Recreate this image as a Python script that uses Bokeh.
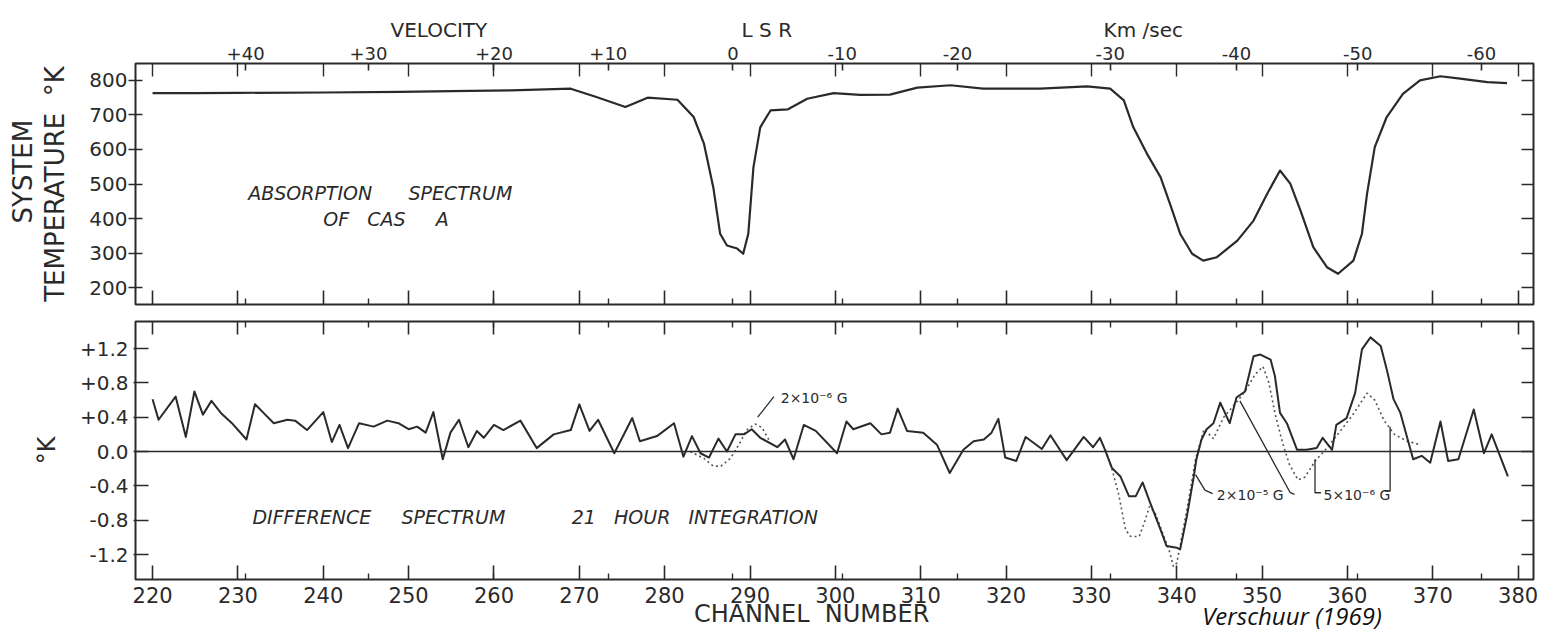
import math
from bokeh.plotting import figure
from bokeh.models import Range1d, LinearAxis, FixedTicker, Label, Span
from bokeh.layouts import column
from bokeh.embed import file_html
from bokeh.resources import INLINE

# ---------------- data ----------------
# absorption spectrum of Cas A (system temperature, K) vs channel number
abs_ch = [220, 225, 230, 240, 249, 255, 262, 269, 272, 275.4, 278, 281.5, 283.4, 284.6,
          285.7, 286.5, 287.3, 288.5, 289.2, 289.8, 290.4, 291.2, 292.4, 294.4, 296.7,
          299.8, 302.9, 306.4, 309.6, 313.5, 317.3, 324, 329.5, 332.2, 333.8, 334.9,
          336.5, 338.1, 339.2, 340.4, 341.8, 343.1, 344.7, 347.1, 349, 350.6, 352.1,
          353.3, 354.5, 356, 357.6, 358.9, 360.7, 361.7, 362.3, 363.2, 364.6, 366.5,
          368.5, 370.9, 373.2, 376.4, 378.7]
abs_T = [763, 763, 764, 765, 767, 769, 771, 776, 752, 723, 750, 744, 694, 617,
         490, 356, 322, 313, 298, 356, 548, 664, 713, 716, 747,
         763, 758, 759, 779, 786, 776, 776, 783, 776, 742, 665,
         588, 520, 443, 356, 298, 278, 288, 336, 394, 472, 539,
         501, 423, 317, 259, 240, 278, 356, 472, 607, 694, 761,
         800, 812, 805, 795, 792]

# difference spectrum, 21 hour integration (K)
diff_ch = [220, 220.7, 222.7, 223.9, 224.9, 225.9, 226.9, 228, 229.3, 231, 232, 233,
           234.2, 235.8, 236.7, 238.1, 240, 241, 241.9, 242.9, 244.2, 245.9, 247.5,
           248.8, 250, 251, 252, 252.9, 254, 254.9, 255.9, 257, 258, 258.8, 260,
           261.1, 263.1, 265, 267, 269, 270, 271.2, 272.2, 274.1, 276.2, 277.1,
           279.1, 281.1, 282.2, 283.2, 284.2, 285.2, 286.3, 287.3, 288.3, 289.3,
           290.2, 291.2, 293.2, 294.1, 295.1, 296.3, 297.7, 300.2, 301.3, 302.1,
           304.1, 305.4, 306.4, 307.3, 308.4, 310.3, 311.9, 313.4, 315, 316.2,
           317.4, 318.3, 319.1, 319.9, 321.2, 322.3, 324.2, 325.2, 327.1, 329.1,
           330.2, 331, 331.6, 332.4, 333.4, 334.4, 335.2, 336.0, 336.9, 338.1,
           338.8, 340, 340.4, 341.2, 342, 342.3, 342.9, 343.5, 344.3, 345.1, 346.2,
           347, 348, 349, 349.8, 351, 351.5, 352.1, 352.9, 354.1, 355.2, 356.4,
           357.1, 358.2, 358.7, 359.9, 360.9, 361.7, 362.7, 363.9, 364.6, 365.4,
           366.2, 367.7, 368.7, 369.7, 370.9, 371.8, 373, 374.8, 376, 376.9, 378.8]
diff_K = [0.61, 0.37, 0.64, 0.17, 0.70, 0.43, 0.59, 0.45, 0.33, 0.14, 0.55, 0.45,
          0.33, 0.37, 0.36, 0.25, 0.46, 0.11, 0.31, 0.04, 0.33, 0.29, 0.36,
          0.33, 0.26, 0.29, 0.22, 0.46, -0.09, 0.22, 0.37, 0.05, 0.24, 0.16, 0.31,
          0.25, 0.36, 0.04, 0.20, 0.25, 0.55, 0.24, 0.37, -0.02, 0.39, 0.12,
          0.18, 0.33, -0.06, 0.18, -0.02, -0.07, 0.15, 0.00, 0.20, 0.20,
          0.26, 0.16, 0.05, 0.14, -0.09, 0.31, 0.24, -0.02, 0.35, 0.26,
          0.33, 0.20, 0.22, 0.50, 0.24, 0.22, 0.08, -0.25, 0.02, 0.12,
          0.14, 0.22, 0.38, -0.07, -0.11, 0.17, 0.03, 0.19, -0.10, 0.17,
          0.05, 0.16, 0.02, -0.19, -0.29, -0.52, -0.52, -0.36, -0.60, -0.91,
          -1.10, -1.12, -1.14, -0.75, -0.29, -0.09, 0.14, 0.26, 0.33, 0.57, 0.33,
          0.63, 0.70, 1.11, 1.13, 1.07, 0.88, 0.45, 0.33, 0.02, 0.02, 0.04,
          0.16, 0.02, 0.31, 0.39, 0.68, 1.19, 1.33, 1.23, 0.96, 0.61,
          0.45, -0.09, -0.05, -0.13, 0.35, -0.11, -0.09, 0.49, -0.02, 0.20, -0.29]

# expected (dotted) Zeeman signals
model1_ch = [283.0, 284.6, 285.7, 286.6, 287.7, 288.7, 289.6, 290.6, 291.4, 292.3]
model1_K = [0.0, -0.08, -0.17, -0.17, -0.08, 0.08, 0.25, 0.32, 0.28, 0.12]
model2_ch = [331.6, 332.4, 333.2, 334.0, 334.6, 335.6, 336.2, 336.8, 337.5, 338.2,
             339.2, 339.6, 340.0, 340.4, 341.4, 342.2, 343.2, 344.3, 345.5, 346.8,
             348.0, 349.2, 350.1, 350.8, 351.5, 352.4, 353.2, 354.2, 355.0, 356.3,
             357.5, 358.7, 360.5, 362.3, 363.2, 364.3, 365.5, 367.0, 368.5]
model2_K = [0.02, -0.2, -0.5, -0.91, -0.99, -0.99, -0.83, -0.64, -0.72, -0.91,
            -1.18, -1.34, -1.3, -1.1, -0.56, -0.09, 0.26, 0.15, 0.4, 0.55,
            0.7, 0.9, 0.99, 0.8, 0.45, 0.1, -0.15, -0.33, -0.3, -0.1,
            0.03, 0.18, 0.41, 0.68, 0.6, 0.36, 0.2, 0.12, 0.08]

# axes
channel_ticks = list(range(220, 381, 10))
temp_ticks = [200, 300, 400, 500, 600, 700, 800]
diff_ticks = [-1.2, -0.8, -0.4, 0.0, 0.4, 0.8, 1.2]
diff_tick_labels = ["-1.2", "-0.8", "-0.4", "0.0", "+0.4", "+0.8", "+1.2"]
vel_ch = [230.9, 245.3, 260.0, 273.4, 288.0, 300.8, 314.3, 332.2, 347.0, 361.2, 375.7]
vel_labels = ["+40", "+30", "+20", "+10", "0", "-10", "-20", "-30", "-40", "-50", "-60"]

# annotation labels and leader lines (channel, K)
field_labels = [("2\u00d710\u207b\u2076 G", 293.6, 0.62),
                ("2\u00d710\u207b\u2075 G", 344.7, -0.51),
                ("5\u00d710\u207b\u2076 G", 357.2, -0.51)]
leaders = [([292.8, 290.9], [0.64, 0.40]),
           ([342.2, 343.3, 344.2], [-0.27, -0.45, -0.49]),
           ([347.4, 353.3, 353.8], [0.59, -0.48, -0.50]),
           ([356.2, 356.2, 356.9], [-0.09, -0.48, -0.48]),
           ([365.0, 365.0, 364.4], [0.29, -0.46, -0.46])]

caption = "Verschuur (1969)"
caption_ch = 353.5

# ---------------- style ----------------
FONT = "DejaVu Sans"
INK = "#2a2a2a"
NB = "\u00a0"
X_RANGE = (218.0, 381.8)


def sp(n):
    return NB * n


def style_axis(ax, tick_in, tick_out, size="19px", minor_in=0, standoff=4):
    ax.axis_line_color = None
    ax.major_tick_line_color = INK
    ax.major_tick_line_width = 1.6
    ax.major_tick_in = tick_in
    ax.major_tick_out = tick_out
    ax.minor_tick_line_color = INK
    ax.minor_tick_line_width = 1.4
    ax.minor_tick_in = minor_in
    ax.minor_tick_out = 0
    ax.major_label_text_font = FONT
    ax.major_label_text_font_size = size
    ax.major_label_text_color = INK
    ax.major_label_standoff = standoff
    ax.axis_label_text_font = FONT
    ax.axis_label_text_font_style = "normal"
    ax.axis_label_text_color = INK


def blank(ticks):
    return {t: "" for t in ticks}


def make_fig(h, yr, top, bottom, title=None):
    p = figure(width=1561, height=h, x_range=Range1d(*X_RANGE), y_range=Range1d(*yr),
               output_backend="svg", toolbar_location=None, title=title,
               x_axis_location=None, y_axis_location=None,
               min_border_left=135, min_border_right=28,
               min_border_top=top, min_border_bottom=bottom)
    p.xgrid.visible = False
    p.ygrid.visible = False
    p.outline_line_color = INK
    p.outline_line_width = 2
    p.background_fill_color = "white"
    p.border_fill_color = "white"
    return p


def data_label(p, x, y, text, size, style="normal"):
    p.add_layout(Label(x=x, y=y, text=text, text_align="left", text_baseline="middle",
                       text_font=FONT, text_font_size=size, text_font_style=style,
                       text_color=INK))


# ---------------- top panel: absorption ----------------
top_title = "VELOCITY" + sp(40) + "L S R" + sp(49) + "Km /sec"
p1 = make_fig(312, (151, 849), 63, 8, title=top_title)
p1.title.align = "left"
p1.title.offset = 255
p1.title.standoff = 4
p1.title.text_font = FONT
p1.title.text_font_style = "normal"
p1.title.text_font_size = "20px"
p1.title.text_color = INK

p1.line(abs_ch, abs_T, line_color=INK, line_width=2.2, line_join="round")

ax = LinearAxis(ticker=FixedTicker(ticks=temp_ticks),
                axis_label="TEMPERATURE" + sp(2) + "\u00b0K")
style_axis(ax, 7, 7, "20px", standoff=1)
ax.axis_label_text_font_size = "26px"
ax.axis_label_standoff = 16
p1.add_layout(ax, "left")
ax = LinearAxis(ticker=FixedTicker(ticks=[]), axis_label=sp(3) + "SYSTEM")
style_axis(ax, 0, 0, standoff=-7)
ax.axis_label_text_font_size = "26px"
ax.axis_label_standoff = 0
p1.add_layout(ax, "left")
ax = LinearAxis(ticker=FixedTicker(ticks=temp_ticks), major_label_overrides=blank(temp_ticks))
style_axis(ax, 12, 0)
p1.add_layout(ax, "right")
ax = LinearAxis(ticker=FixedTicker(ticks=channel_ticks, minor_ticks=vel_ch),
                major_label_overrides=blank(channel_ticks))
style_axis(ax, 14, 0, minor_in=6)
p1.add_layout(ax, "below")
ax = LinearAxis(ticker=FixedTicker(ticks=vel_ch, minor_ticks=channel_ticks),
                major_label_overrides=dict(zip(vel_ch, vel_labels)))
style_axis(ax, 7, 0, "18px", minor_in=13, standoff=4)
p1.add_layout(ax, "above")

data_label(p1, 231.2, 475, "ABSORPTION" + sp(6) + "SPECTRUM", "19px", "italic")
data_label(p1, 240.0, 400, "OF" + sp(3) + "CAS" + sp(5) + "A", "19px", "italic")

# ---------------- bottom panel: difference ----------------
p2 = make_fig(322, (-1.491, 1.515), 9, 55)
p2.add_layout(Span(location=0, dimension="width", line_color=INK, line_width=1.6))
p2.line(model1_ch, model1_K, line_color="#555555", line_width=1.6, line_dash="2 3")
p2.line(model2_ch, model2_K, line_color="#555555", line_width=1.6, line_dash="2 3")
p2.line(diff_ch, diff_K, line_color=INK, line_width=2.0, line_join="round")
for xs, ys in leaders:
    p2.line(xs, ys, line_color=INK, line_width=1.3)

ax = LinearAxis(ticker=FixedTicker(ticks=diff_ticks), axis_label="\u00b0K",
                major_label_overrides=dict(zip(diff_ticks, diff_tick_labels)))
style_axis(ax, 13, 2, "20px", standoff=5)
ax.axis_label_text_font_size = "24px"
ax.axis_label_standoff = 16
p2.add_layout(ax, "left")
ax = LinearAxis(ticker=FixedTicker(ticks=diff_ticks), major_label_overrides=blank(diff_ticks))
style_axis(ax, 12, 0)
p2.add_layout(ax, "right")
ax = LinearAxis(ticker=FixedTicker(ticks=channel_ticks, minor_ticks=vel_ch),
                axis_label="CHANNEL" + sp(2) + "NUMBER" + sp(6))
style_axis(ax, 14, 0, "21px", minor_in=6, standoff=7)
ax.axis_label_text_font_size = "24px"
ax.axis_label_standoff = -6
p2.add_layout(ax, "below")
# caption row (shares the row of the axis title)
ax = LinearAxis(ticker=FixedTicker(ticks=[caption_ch]),
                major_label_overrides={caption_ch: caption})
style_axis(ax, 0, 0, "24px", standoff=-32)
ax.major_label_text_font = "Open Sans"
ax.major_label_text_font_style = "italic"
ax.major_label_text_color = "#111111"
p2.add_layout(ax, "below")
ax = LinearAxis(ticker=FixedTicker(ticks=channel_ticks, minor_ticks=vel_ch),
                major_label_overrides=blank(channel_ticks))
style_axis(ax, 13, 0, minor_in=6)
p2.add_layout(ax, "above")

for txt, x, y in field_labels:
    data_label(p2, x, y, txt, "14px")
data_label(p2, 231.7, -0.758,
           "DIFFERENCE" + sp(5) + "SPECTRUM" + sp(11) + "21" + sp(3) + "HOUR" + sp(3)
           + "INTEGRATION", "19px", "italic")

layout = column(p1, p2, spacing=0)
open("out.html", "w").write(file_html(layout, INLINE, "Cas A Zeeman"))
